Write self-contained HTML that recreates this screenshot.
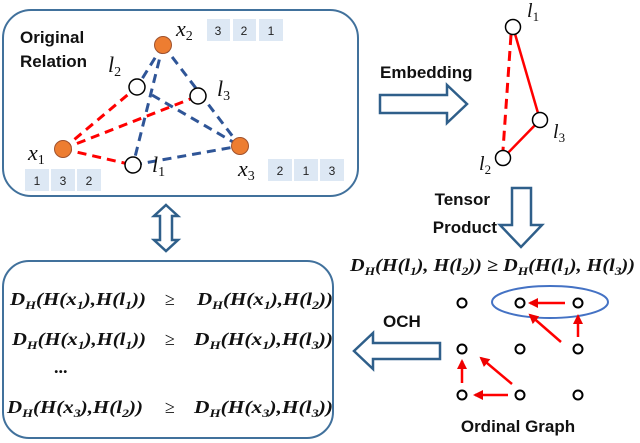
<!DOCTYPE html>
<html><head><meta charset="utf-8"><style>
body{margin:0;background:#fff;}
svg{display:block;}
.t{font-family:"Liberation Sans",sans-serif;font-weight:bold;fill:#111;}
.m{font-family:"Liberation Serif",serif;font-style:italic;fill:#111;}
.f{font-family:"Liberation Serif",serif;font-style:italic;font-weight:bold;fill:#111;font-size:18px;}
.n{font-family:"Liberation Sans",sans-serif;font-size:12px;fill:#222;text-anchor:middle;}
</style></head><body>
<svg width="640" height="443" viewBox="0 0 640 443" xmlns="http://www.w3.org/2000/svg">
<defs><marker id="ar" viewBox="0 0 10 10" refX="8" refY="5" markerWidth="4" markerHeight="4" orient="auto"><path d="M0,0L10,5L0,10z" fill="#e00"/></marker></defs>
<!-- top box -->
<rect x="3" y="10" width="355" height="186" rx="28" fill="none" stroke="#41719c" stroke-width="2"/>
<text class="t" x="20" y="43" font-size="17">Original</text>
<text class="t" x="20" y="67" font-size="17">Relation</text>
<g fill="#dde8f4">
<rect x="207" y="19" width="23" height="22"/><rect x="233" y="19" width="23" height="22"/><rect x="259" y="19" width="24" height="22"/>
<rect x="25" y="169" width="24" height="22"/><rect x="51" y="169" width="24" height="22"/><rect x="77" y="169" width="24" height="22"/>
<rect x="268" y="159" width="24" height="22"/><rect x="294" y="159" width="24" height="22"/><rect x="320" y="159" width="24" height="22"/>
</g>
<text class="n" x="218" y="35">3</text><text class="n" x="244" y="35">2</text><text class="n" x="271" y="35">1</text>
<text class="n" x="37" y="185">1</text><text class="n" x="63" y="185">3</text><text class="n" x="89" y="185">2</text>
<text class="n" x="280" y="175">2</text><text class="n" x="306" y="175">1</text><text class="n" x="332" y="175">3</text>
<g stroke="#2f5597" stroke-width="3" stroke-dasharray="9,6" fill="none">
<line x1="163" y1="45" x2="137" y2="87"/><line x1="163" y1="45" x2="133" y2="165"/><line x1="163" y1="45" x2="240" y2="146"/>
<line x1="152" y1="95" x2="240" y2="146"/><line x1="133" y1="165" x2="240" y2="146"/>
</g>
<g stroke="#f00" stroke-width="3" stroke-dasharray="9,6" fill="none">
<line x1="63" y1="149" x2="137" y2="87"/><line x1="63" y1="149" x2="198" y2="96"/><line x1="63" y1="149" x2="133" y2="165"/>
</g>
<g stroke="#000" stroke-width="1.5" fill="#fff">
<circle cx="137" cy="87" r="8"/><circle cx="198" cy="96" r="8"/><circle cx="133" cy="165" r="8"/>
</g>
<g stroke="#a0522d" stroke-width="1" fill="#ed7d31">
<circle cx="163" cy="45" r="8.5"/><circle cx="63" cy="149" r="8.5"/><circle cx="240" cy="146" r="8.5"/>
</g>
<g class="m" font-size="22">
<text x="176" y="36">x<tspan font-size="14" dy="4" font-style="normal">2</tspan></text>
<text x="108" y="72">l<tspan font-size="14" dy="4" font-style="normal">2</tspan></text>
<text x="217" y="96">l<tspan font-size="14" dy="4" font-style="normal">3</tspan></text>
<text x="28" y="160">x<tspan font-size="14" dy="4" font-style="normal">1</tspan></text>
<text x="152" y="172">l<tspan font-size="14" dy="4" font-style="normal">1</tspan></text>
<text x="238" y="176">x<tspan font-size="14" dy="4" font-style="normal">3</tspan></text>
</g>
<!-- embedding arrow -->
<text class="t" x="380" y="78" font-size="17">Embedding</text>
<path d="M380,95H447V85L467,104L447,123V113H380Z" fill="#fff" stroke="#2f5f8a" stroke-width="2.5"/>
<!-- embedded nodes -->
<line x1="511" y1="35" x2="503" y2="150" stroke="#f00" stroke-width="3" stroke-dasharray="10,6"/>
<line x1="513" y1="27" x2="540" y2="120" stroke="#f00" stroke-width="2.5"/>
<line x1="540" y1="120" x2="503" y2="158" stroke="#f00" stroke-width="2.5"/>
<g stroke="#000" stroke-width="1.5" fill="#fff"><circle cx="513" cy="27" r="7.5"/><circle cx="540" cy="120" r="7.5"/><circle cx="503" cy="158" r="7.5"/></g>
<g class="m" font-size="20">
<text x="527" y="17">l<tspan font-size="13" dy="4" font-style="normal">1</tspan></text>
<text x="553" y="138">l<tspan font-size="13" dy="4" font-style="normal">3</tspan></text>
<text x="479" y="170">l<tspan font-size="13" dy="4" font-style="normal">2</tspan></text>
</g>
<!-- tensor arrow -->
<text class="t" x="490" y="205" font-size="17" text-anchor="end">Tensor</text>
<text class="t" x="497" y="233" font-size="17" text-anchor="end">Product</text>
<path d="M512,188H531V225H542L521,247L500,225H512Z" fill="#fff" stroke="#2f5f8a" stroke-width="2.5"/>
<text class="f" x="350" y="271" textLength="285" lengthAdjust="spacingAndGlyphs">D<tspan font-size="12" dy="4">H</tspan><tspan dy="-4">(H(l</tspan><tspan font-size="12" dy="4">1</tspan><tspan dy="-4">), H(l</tspan><tspan font-size="12" dy="4">2</tspan><tspan dy="-4">)) ≥ D</tspan><tspan font-size="12" dy="4">H</tspan><tspan dy="-4">(H(l</tspan><tspan font-size="12" dy="4">1</tspan><tspan dy="-4">), H(l</tspan><tspan font-size="12" dy="4">3</tspan><tspan dy="-4">))</tspan></text>
<!-- double arrow -->
<path d="M166,205L178,216H172V240H178L166,251L154,240H160V216H154Z" fill="#fff" stroke="#2f5f8a" stroke-width="2.5"/>
<!-- bottom box -->
<rect x="3" y="261" width="330" height="177" rx="26" fill="none" stroke="#41719c" stroke-width="2"/>
<g class="f">
<text x="10" y="305" textLength="136" lengthAdjust="spacingAndGlyphs">D<tspan font-size="12" dy="4">H</tspan><tspan dy="-4">(H(x</tspan><tspan font-size="12" dy="4">1</tspan><tspan dy="-4">),H(l</tspan><tspan font-size="12" dy="4">1</tspan><tspan dy="-4">))</tspan></text>
<text x="165" y="305" font-weight="normal" font-style="normal">≥</text>
<text x="197" y="305" textLength="136" lengthAdjust="spacingAndGlyphs">D<tspan font-size="12" dy="4">H</tspan><tspan dy="-4">(H(x</tspan><tspan font-size="12" dy="4">1</tspan><tspan dy="-4">),H(l</tspan><tspan font-size="12" dy="4">2</tspan><tspan dy="-4">))</tspan></text>
<text x="12" y="345" textLength="134" lengthAdjust="spacingAndGlyphs">D<tspan font-size="12" dy="4">H</tspan><tspan dy="-4">(H(x</tspan><tspan font-size="12" dy="4">1</tspan><tspan dy="-4">),H(l</tspan><tspan font-size="12" dy="4">1</tspan><tspan dy="-4">))</tspan></text>
<text x="165" y="345" font-weight="normal" font-style="normal">≥</text>
<text x="194" y="345" textLength="139" lengthAdjust="spacingAndGlyphs">D<tspan font-size="12" dy="4">H</tspan><tspan dy="-4">(H(x</tspan><tspan font-size="12" dy="4">1</tspan><tspan dy="-4">),H(l</tspan><tspan font-size="12" dy="4">3</tspan><tspan dy="-4">))</tspan></text>
<text x="54" y="373" font-style="normal">...</text>
<text x="7" y="413" textLength="136" lengthAdjust="spacingAndGlyphs">D<tspan font-size="12" dy="4">H</tspan><tspan dy="-4">(H(x</tspan><tspan font-size="12" dy="4">3</tspan><tspan dy="-4">),H(l</tspan><tspan font-size="12" dy="4">2</tspan><tspan dy="-4">))</tspan></text>
<text x="165" y="413" font-weight="normal" font-style="normal">≥</text>
<text x="194" y="413" textLength="139" lengthAdjust="spacingAndGlyphs">D<tspan font-size="12" dy="4">H</tspan><tspan dy="-4">(H(x</tspan><tspan font-size="12" dy="4">3</tspan><tspan dy="-4">),H(l</tspan><tspan font-size="12" dy="4">3</tspan><tspan dy="-4">))</tspan></text>
</g>
<!-- OCH arrow -->
<text class="t" x="383" y="327" font-size="17">OCH</text>
<path d="M440,343H373V333L354,351L373,369V359H440Z" fill="#fff" stroke="#2f5f8a" stroke-width="2.5"/>
<!-- ordinal graph -->
<ellipse cx="550" cy="302" rx="58" ry="16" fill="none" stroke="#4472c4" stroke-width="2"/>
<g stroke="#f00" stroke-width="2.5" marker-end="url(#ar)">
<line x1="565" y1="303" x2="530" y2="303"/>
<line x1="578" y1="337" x2="578" y2="316"/>
<line x1="561" y1="342" x2="530" y2="315"/>
<line x1="462" y1="383" x2="462" y2="361"/>
<line x1="512" y1="384" x2="481" y2="358"/>
<line x1="508" y1="395" x2="475" y2="395"/>
</g>
<g stroke="#000" stroke-width="2" fill="#fff">
<circle cx="462" cy="303" r="4.5"/><circle cx="520" cy="303" r="4.5"/><circle cx="578" cy="303" r="4.5"/>
<circle cx="462" cy="349" r="4.5"/><circle cx="520" cy="349" r="4.5"/><circle cx="578" cy="349" r="4.5"/>
<circle cx="462" cy="395" r="4.5"/><circle cx="520" cy="395" r="4.5"/><circle cx="578" cy="395" r="4.5"/>
</g>
<text class="t" x="518" y="432" font-size="17" text-anchor="middle">Ordinal Graph</text>
</svg>
</body></html>
